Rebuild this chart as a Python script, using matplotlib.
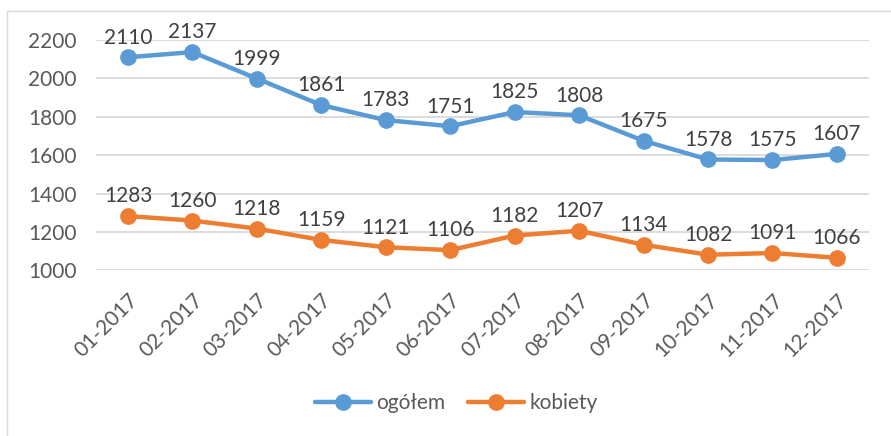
import matplotlib.pyplot as plt
from matplotlib.lines import Line2D

# data
months = ['01-2017', '02-2017', '03-2017', '04-2017', '05-2017', '06-2017',
          '07-2017', '08-2017', '09-2017', '10-2017', '11-2017', '12-2017']
ogolem = [2110, 2137, 1999, 1861, 1783, 1751, 1825, 1808, 1675, 1578, 1575, 1607]
kobiety = [1283, 1260, 1218, 1159, 1121, 1106, 1182, 1207, 1134, 1082, 1091, 1066]
y_ticks = [1000, 1200, 1400, 1600, 1800, 2000, 2200]

plt.rcParams['font.family'] = ['Lato', 'DejaVu Sans']

fig = plt.figure(figsize=(8.91, 4.36), dpi=100)
ax = fig.add_axes([0.1075, 0.3796, 0.868, 0.5287])

x = range(len(months))
blue = '#5B9BD5'
orange = '#ED7D31'

ax.plot(x, ogolem, color=blue, lw=3.2, marker='o', ms=11, label='ogółem',
        solid_capstyle='round', zorder=3)
ax.plot(x, kobiety, color=orange, lw=3.2, marker='o', ms=11, label='kobiety',
        solid_capstyle='round', zorder=3)

# data labels above points
for series in (ogolem, kobiety):
    for i, v in enumerate(series):
        ax.annotate(str(v), (i, v), xytext=(0, 7), textcoords='offset points',
                    ha='center', va='bottom', fontsize=15, color='#404040')

ax.set_xlim(-0.5, len(months) - 0.5)
ax.set_ylim(1000, 2200)
ax.set_yticks(y_ticks)
ax.set_xticks(list(x))
ax.set_xticklabels(months, rotation=45, ha='right', rotation_mode='anchor')
ax.tick_params(axis='both', length=0, labelsize=15, labelcolor='#595959')
ax.tick_params(axis='x', pad=14)
ax.tick_params(axis='y', pad=14)
ax.grid(axis='y', color='#D9D9D9', lw=1.3)
ax.set_axisbelow(True)
for s in ax.spines.values():
    s.set_visible(False)

ax.legend(loc='center', bbox_to_anchor=(0.512, 0.0757), bbox_transform=fig.transFigure,
          ncol=2, frameon=False, fontsize=15, handlelength=2.7, handletextpad=0.25,
          columnspacing=1.1, labelcolor='#595959')

# chart area border (left and top edges visible)
fig.add_artist(Line2D([7 / 891, 7 / 891], [0, 1 - 11 / 436], transform=fig.transFigure,
                      color='#D9D9D9', lw=1))
fig.add_artist(Line2D([7 / 891, 1], [1 - 11 / 436, 1 - 11 / 436], transform=fig.transFigure,
                      color='#D9D9D9', lw=1))

fig.savefig('out.png', dpi=100)
